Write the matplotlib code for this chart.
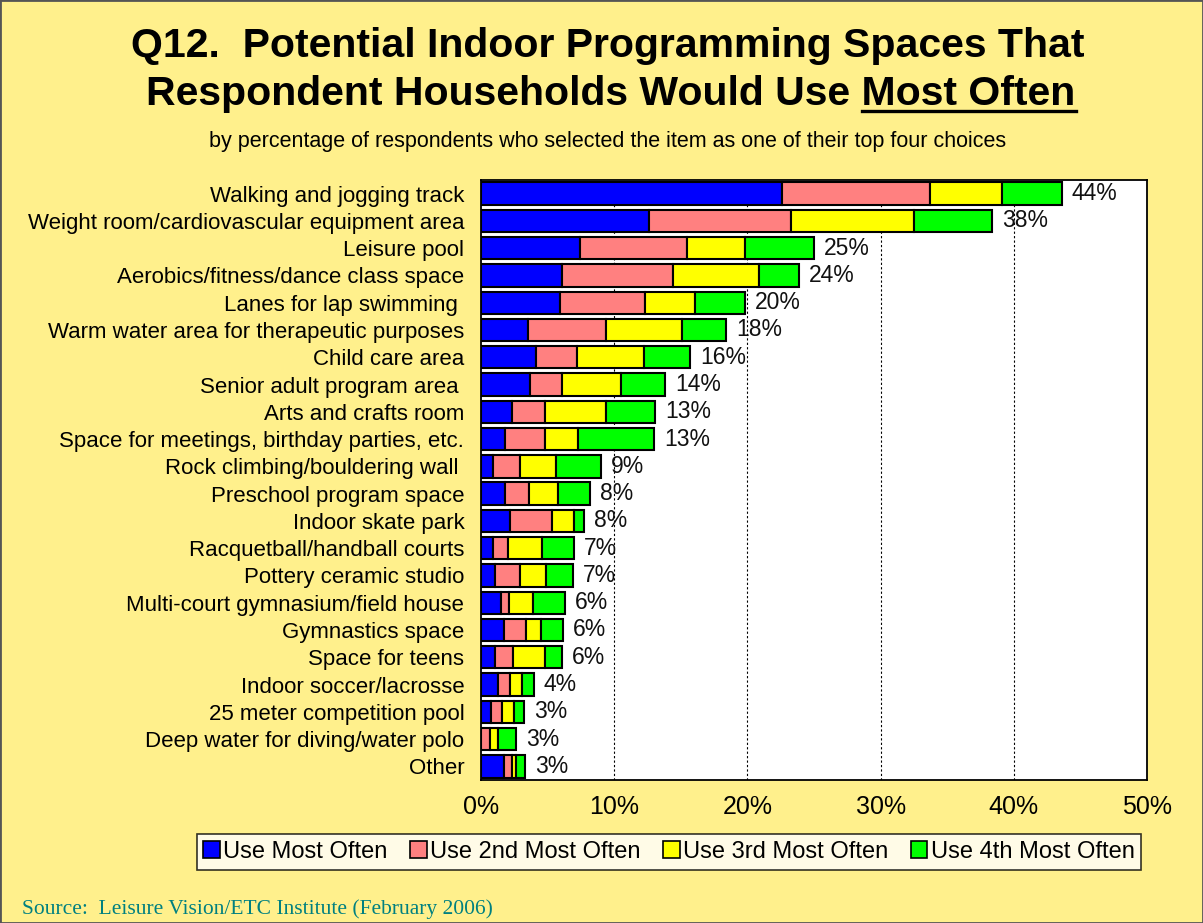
import matplotlib
matplotlib.use("Agg")
import matplotlib.pyplot as plt
import numpy as np
from matplotlib.lines import Line2D
from matplotlib.patches import Patch, Rectangle

plt.rcParams["font.family"] = ["Liberation Sans", "DejaVu Sans"]

# survey items, top of the chart first
items = [
    "Walking and jogging track",
    "Weight room/cardiovascular equipment area",
    "Leisure pool",
    "Aerobics/fitness/dance class space",
    "Lanes for lap swimming ",
    "Warm water area for therapeutic purposes",
    "Child care area",
    "Senior adult program area ",
    "Arts and crafts room",
    "Space for meetings, birthday parties, etc.",
    "Rock climbing/bouldering wall ",
    "Preschool program space",
    "Indoor skate park",
    "Racquetball/handball courts",
    "Pottery ceramic studio",
    "Multi-court gymnasium/field house",
    "Gymnastics space",
    "Space for teens",
    "Indoor soccer/lacrosse",
    "25 meter competition pool",
    "Deep water for diving/water polo",
    "Other",
]

most = [22.6, 12.6, 7.4, 6.1, 5.9, 3.5, 4.1, 3.7, 2.35, 1.8, 0.9,
        1.8, 2.2, 0.9, 1.05, 1.5, 1.7, 1.07, 1.3, 0.73, 0.0, 1.75]
second = [11.1, 10.7, 8.1, 8.3, 6.4, 5.9, 3.1, 2.4, 2.45, 3.0, 2.0,
          1.8, 3.1, 1.1, 1.85, 0.6, 1.7, 1.33, 0.9, 0.87, 0.65, 0.55]
third = [5.4, 9.2, 4.3, 6.5, 3.8, 5.7, 5.0, 4.4, 4.6, 2.45, 2.75,
         2.2, 1.7, 2.6, 1.95, 1.8, 1.1, 2.4, 0.9, 0.9, 0.65, 0.35]
fourth = [4.5, 5.9, 5.2, 3.0, 3.7, 3.3, 3.5, 3.3, 3.7, 5.75, 3.35,
          2.4, 0.7, 2.4, 2.05, 2.4, 1.65, 1.3, 0.85, 0.7, 1.3, 0.65]

series = ["Use Most Often", "Use 2nd Most Often", "Use 3rd Most Often", "Use 4th Most Often"]
colors = ["#0000FF", "#FF8080", "#FFFF00", "#00FF00"]
xticks = [0, 10, 20, 30, 40, 50]

BG = "#FFF08C"
W, H = 1203, 923

fig = plt.figure(figsize=(W / 100, H / 100), dpi=100, facecolor=BG)
ax = fig.add_axes([481 / W, 1 - 780 / H, (1147 - 481) / W, 600 / H])
ax.set_facecolor("white")

y = np.arange(len(items))
left = np.zeros(len(items))
for vals, col in zip([most, second, third, fourth], colors):
    v = np.array(vals)
    ax.barh(y, v, left=left, height=0.82, color=col, edgecolor="black",
            linewidth=1.5, zorder=3)
    left += v

for yi, tot in zip(y, left):
    ax.text(tot + 0.75, yi, f"{round(tot):.0f}%", va="center", ha="left",
            fontsize=16.5, color="#111111", zorder=4)

ax.set_ylim(len(items) - 0.5, -0.5)
ax.set_xlim(0, 50)
ax.set_xticks(xticks)
ax.set_xticklabels([f"{t}%" for t in xticks], fontsize=18)
ax.set_yticks(y)
ax.set_yticklabels(items, fontsize=16)
ax.tick_params(axis="both", length=0)
ax.tick_params(axis="y", pad=12)
ax.tick_params(axis="x", pad=11)
for t in xticks[1:-1]:
    ax.axvline(t, color="black", linestyle=(0, (2, 2)), linewidth=0.8, zorder=1)
for s in ax.spines.values():
    s.set_linewidth(1.3)
    s.set_color("black")

# titles
fig.text(0.505, 1 - 46 / H, "Q12.  Potential Indoor Programming Spaces That",
         ha="center", va="center", fontsize=29.5, fontweight="bold")
line2 = fig.text(0.508, 1 - 94 / H, "Respondent Households Would Use Most Often",
                 ha="center", va="center", fontsize=29.5, fontweight="bold")
fig.text(0.505, 1 - 141 / H,
         "by percentage of respondents who selected the item as one of their top four choices",
         ha="center", va="center", fontsize=15.5)

# underline the last two words of the second title line
fig.canvas.draw()
r = fig.canvas.get_renderer()
bb = line2.get_window_extent(r)
probe = fig.text(0, 0, "Most Often", fontsize=29.5, fontweight="bold")
pw = probe.get_window_extent(r).width
probe.remove()
uy = bb.y0 + 2
fig.add_artist(Line2D([(bb.x1 - pw) / W, bb.x1 / W], [uy / H, uy / H],
                      transform=fig.transFigure, color="black", linewidth=2.4))

handles = [Patch(facecolor=c, edgecolor="black", linewidth=1.2) for c in colors]
leg = fig.legend(handles, series, loc="center", bbox_to_anchor=(669 / W, 1 - 852 / H),
                 ncol=4, fontsize=17, frameon=True, fancybox=False,
                 handlelength=0.7, handleheight=0.7, handletextpad=0.15,
                 columnspacing=0.95, borderpad=0.28, edgecolor="black")
leg.get_frame().set_linewidth(1.2)

fig.text(22 / W, 1 - 909 / H, "Source:  Leisure Vision/ETC Institute (February 2006)",
         ha="left", va="center", fontsize=15.5, color="#008080",
         family=["Liberation Serif", "DejaVu Serif"])

fig.add_artist(Rectangle((0, 0), 1, 1, transform=fig.transFigure, fill=False,
                         edgecolor="#555555", linewidth=2))

fig.savefig("out.png", dpi=100, facecolor=BG)
